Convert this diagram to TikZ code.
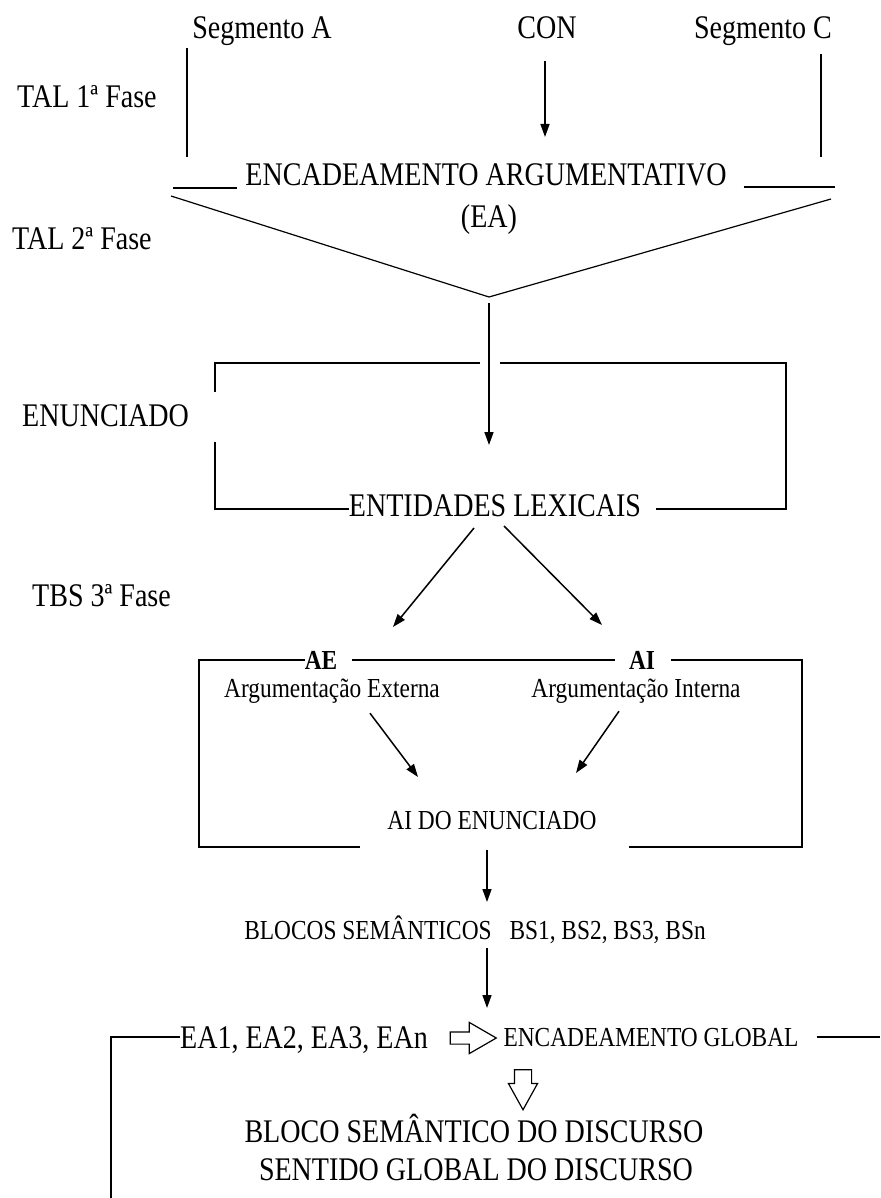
\documentclass[tikz,border=0pt]{standalone}
\usepackage{fontspec}
\setmainfont{Liberation Serif}[FakeStretch=0.85]
\usetikzlibrary{arrows.meta,shapes.arrows}

\begin{document}
\begin{tikzpicture}[x=1pt, y=-1pt,
  big/.style={font=\fontsize{33}{38}\selectfont, inner sep=0pt,
              text height=22pt, text depth=0pt},
  small/.style={font=\fontsize{27.5}{32}\selectfont, inner sep=0pt,
              text height=18pt, text depth=0pt},
  ln/.style={line width=1.5pt},
  arr/.style={-{Triangle[length=13pt,width=9pt]}, line width=1.5pt},
  hollow/.style={single arrow, draw, line width=1.2pt, inner sep=0pt,
                 text depth=0pt},
]
\useasboundingbox (0,0) rectangle (880,1198);

% TAL, first and second phase
\node[big] (segA) at (262,28) {Segmento A};
\node[big] (con) at (547,28) {CON};
\node[big] (segC) at (763,28) {Segmento C};
\node[big, anchor=west] (tal1) at (17,97) {TAL 1ª Fase};
\node[big] (ea) at (486,175) {ENCADEAMENTO ARGUMENTATIVO};
\node[big] (eaab) at (489,217) {(EA)};
\node[big, anchor=west] (tal2) at (12,238) {TAL 2ª Fase};

\coordinate (aTop) at (187,48);
\coordinate (aBot) at (187,157);
\coordinate (cTop) at (821,54);
\coordinate (cBot) at (821,157);
\coordinate (conTip) at (545,137);
\coordinate (vL) at (171,196);
\coordinate (vB) at (489,297);
\coordinate (vR) at (831,199);

\draw[ln] (aTop) -- (aBot);
\draw[ln] (cTop) -- (cBot);
\draw[arr] (con) ++(-2,33) -- (conTip);
\draw[ln] ([xshift=-8pt,yshift=-2pt]ea.south west) -- ++(-64,0);
\draw[ln] ([xshift=17pt,yshift=-1pt]ea.south east) -- ++(91,0);
\draw[line width=1.2pt] (vL) -- (vB) -- (vR);

% enunciado
\node[big, anchor=west] (enun) at (22,415) {ENUNCIADO};
\node[big] (ent) at (495,505) {ENTIDADES LEXICAIS};
\coordinate (entTip) at (489,445);

\draw[arr] (vB) ++(0,6) -- (entTip);
\draw[ln] (480,363) -| (215,392);
\draw[ln] (215,442) |- ([yshift=-4pt]ent.west);
\draw[ln] ([xshift=15pt,yshift=-4pt]ent.east) -| (786,363) -- (500,363);

% TBS, third phase
\node[big, anchor=west] (tbs) at (32,595) {TBS 3ª Fase};
\node[small, font=\fontsize{27.5}{32}\selectfont\bfseries] (ae) at (321,660) {AE};
\node[small, font=\fontsize{27.5}{32}\selectfont\bfseries] (ai) at (642,660) {AI};
\node[small] (argext) at (332,688) {Argumentação Externa};
\node[small] (argint) at (636,688) {Argumentação Interna};
\node[small] (aido) at (492,820) {AI DO ENUNCIADO};

\coordinate (aeTip) at (393,627);
\coordinate (aiTip) at (602,625);
\coordinate (extTip) at (418,777);
\coordinate (intTip) at (576,773);
\coordinate (blocosTip) at (487,902);
\coordinate (easTip) at (487,1008);

\draw[arr] (474,528) -- (aeTip);
\draw[arr] (504,526) -- (aiTip);
\draw[ln] (ae.west) -| (199,847) -- (360,847);
\draw[ln] ([xshift=15pt]ae.east) -- ([xshift=-14pt]ai.west);
\draw[ln] ([xshift=16pt]ai.east) -| (802,847) -- (629,847);
\draw[arr] (argext.south) ++(38,16) -- (extTip);
\draw[arr] (argint.south) ++(-17,14) -- (intTip);

% blocos semanticos
\node[small] (blocos) at (475,930) {BLOCOS SEMÂNTICOS\hspace{12pt} BS1, BS2, BS3, BSn};
\node[big] (eas) at (304,1037) {EA1, EA2, EA3, EAn};
\node[hollow, minimum height=46pt, text height=11pt,
      single arrow head extend=9.5pt, single arrow tip angle=60] (hx) at (468,1038) {};
\node[small] (encg) at (651,1037) {ENCADEAMENTO GLOBAL};
\node[hollow, rotate=-90, minimum height=40pt, text height=16pt,
      single arrow head extend=6pt, single arrow tip angle=58] (hy) at (523,1082) {};
\node[big] (bsd) at (474,1131) {BLOCO SEMÂNTICO DO DISCURSO};
\node[big] (sgd) at (476,1169) {SENTIDO GLOBAL DO DISCURSO};

\draw[arr] (aido.south) ++(-5,21) -- (blocosTip);
\draw[arr] (blocos.south) ++(12,9) -- (easTip);
\draw[ln] (eas.west) -- (111,1037) -- (111,1198);
\draw[ln] ([xshift=18pt]encg.east) -- (880,1037);
\end{tikzpicture}
\end{document}
